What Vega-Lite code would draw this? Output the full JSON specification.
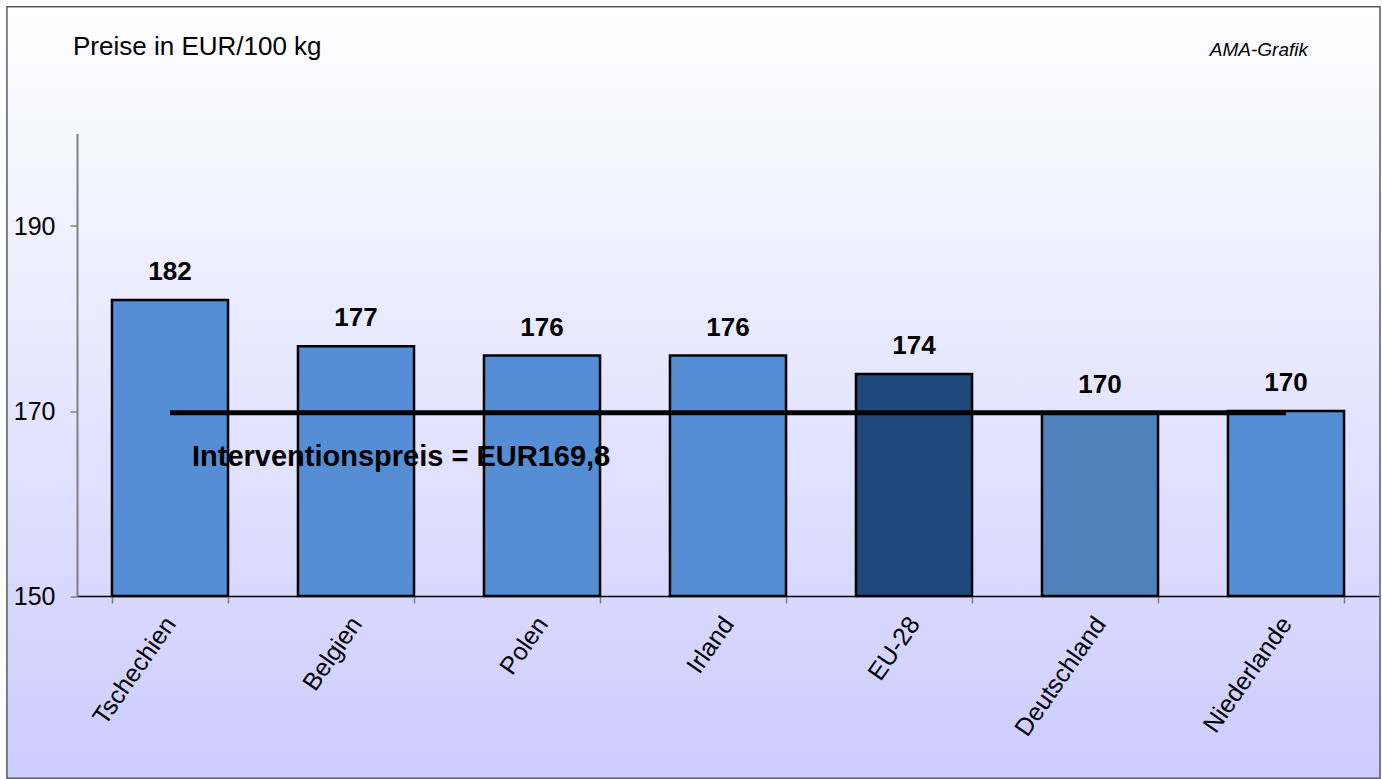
{
  "$schema": "https://vega.github.io/schema/vega-lite/v6.json",
  "width": 1302,
  "height": 462.5,
  "autosize": "none",
  "padding": {"left": 77, "top": 133.5, "right": 3, "bottom": 183},
  "background": "#ffffff",
  "config": {
    "font": "Liberation Sans",
    "view": {"stroke": null},
    "text": {"font": "Liberation Sans"}
  },
  "data": {
    "values": [
      {"Land": "Tschechien", "Preis": 182, "Label": "182"},
      {"Land": "Belgien", "Preis": 177, "Label": "177"},
      {"Land": "Polen", "Preis": 176, "Label": "176"},
      {"Land": "Irland", "Preis": 176, "Label": "176"},
      {"Land": "EU-28", "Preis": 174, "Label": "174"},
      {"Land": "Deutschland", "Preis": 169.8, "Label": "170"},
      {"Land": "Niederlande", "Preis": 170, "Label": "170"}
    ]
  },
  "layer": [
    {
      "data": {"values": [{"Frame": "Hintergrund"}]},
      "mark": {
        "type": "rect",
        "clip": false,
        "fill": {
          "gradient": "linear",
          "x1": 0, "y1": 0, "x2": 0, "y2": 1,
          "stops": [
            {"offset": 0, "color": "#ffffff"},
            {"offset": 1, "color": "#ccccff"}
          ]
        },
        "stroke": "#5a5a5a",
        "strokeWidth": 1.5
      },
      "encoding": {
        "x": {
          "datum": "Tschechien",
          "bandPosition": -0.905,
          "type": "nominal",
          "scale": {
            "domain": ["Tschechien", "Belgien", "Polen", "Irland", "EU-28", "Deutschland", "Niederlande"],
            "paddingInner": 0.376,
            "paddingOuter": 0.188
          },
          "axis": {
            "title": null,
            "zindex": 1,
            "labelAngle": -55,
            "labelFontSize": 25,
            "labelFont": "Liberation Sans",
            "labelColor": "#000000",
            "labelPadding": 16,
            "domainColor": "#000000",
            "domainWidth": 1.5,
            "tickColor": "#808080",
            "tickSize": 7,
            "tickWidth": 1.5,
            "tickBand": "extent"
          }
        },
        "x2": {"datum": "Niederlande", "bandPosition": 1.31},
        "y": {
          "datum": 213.7,
          "type": "quantitative",
          "scale": {"domain": [150, 200], "nice": false, "zero": false},
          "axis": {
            "title": null,
            "zindex": 1,
            "values": [150, 170, 190],
            "grid": false,
            "labelFontSize": 25,
            "labelFont": "Liberation Sans",
            "labelColor": "#000000",
            "labelPadding": 15,
            "domainColor": "#808080",
            "domainWidth": 2,
            "tickColor": "#808080",
            "tickSize": 7,
            "tickWidth": 1.5
          }
        },
        "y2": {"datum": 130.3}
      }
    },
    {
      "mark": {"type": "bar", "stroke": "#000000", "strokeWidth": 2.5},
      "encoding": {
        "x": {"field": "Land", "type": "nominal"},
        "y": {"field": "Preis", "type": "quantitative"},
        "y2": {"datum": 150},
        "color": {
          "field": "Land",
          "type": "nominal",
          "legend": null,
          "scale": {
            "domain": ["Tschechien", "Belgien", "Polen", "Irland", "EU-28", "Deutschland", "Niederlande"],
            "range": ["#558ed5", "#558ed5", "#558ed5", "#558ed5", "#1f497d", "#4f81bd", "#558ed5"]
          }
        }
      }
    },
    {
      "data": {"values": [{"Referenz": "Interventionspreis", "Wert": 169.8}]},
      "mark": {"type": "rule", "stroke": "#000000", "strokeWidth": 5},
      "encoding": {
        "x": {"datum": "Tschechien", "type": "nominal"},
        "x2": {"datum": "Niederlande"},
        "y": {"field": "Wert", "type": "quantitative"}
      }
    },
    {
      "data": {"values": [{"Referenz": "Interventionspreis = EUR169,8", "Wert": 169.8}]},
      "mark": {"type": "text", "align": "left", "baseline": "middle", "fontSize": 29, "fontWeight": "bold", "color": "#000000", "dx": 22, "dy": 44},
      "encoding": {
        "x": {"datum": "Tschechien", "type": "nominal"},
        "y": {"field": "Wert", "type": "quantitative"},
        "text": {"field": "Referenz"}
      }
    },
    {
      "mark": {"type": "text", "baseline": "middle", "fontSize": 26, "fontWeight": "bold", "color": "#000000", "dy": -28},
      "encoding": {
        "x": {"field": "Land", "type": "nominal"},
        "y": {"field": "Preis", "type": "quantitative"},
        "text": {"field": "Label"}
      }
    },
    {
      "data": {"values": [{"Titel": "Preise in EUR/100 kg", "Pos": 209.35}]},
      "mark": {"type": "text", "clip": false, "align": "left", "baseline": "middle", "fontSize": 26, "color": "#000000", "dx": -97},
      "encoding": {
        "x": {"datum": "Tschechien", "type": "nominal"},
        "y": {"field": "Pos", "type": "quantitative"},
        "text": {"field": "Titel"}
      }
    },
    {
      "data": {"values": [{"Quelle": "AMA-Grafik", "Pos": 209}]},
      "mark": {"type": "text", "clip": false, "align": "right", "baseline": "middle", "fontSize": 19, "fontStyle": "italic", "color": "#000000", "dx": 22},
      "encoding": {
        "x": {"datum": "Niederlande", "type": "nominal"},
        "y": {"field": "Pos", "type": "quantitative"},
        "text": {"field": "Quelle"}
      }
    }
  ]
}
